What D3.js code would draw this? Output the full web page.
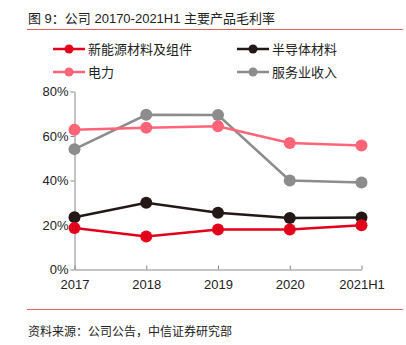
<!DOCTYPE html>
<html><head><meta charset="utf-8">
<script src="https://cdn.jsdelivr.net/npm/d3@7"></script>
<style>body{margin:0;background:#fff}svg{display:block}</style>
</head><body>
<svg id="c" width="406" height="345"></svg>
<script>
const categories = ["2017","2018","2019","2020","2021H1"];
const seriesNames = ["新能源材料及组件","半导体材料","电力","服务业收入"];
const seriesColors = ["#E2001A","#231815","#FF6478","#8C8C8C"];
const newEnergy = [18.6,14.8,18.0,18.0,19.9];
const semiconductor = [23.5,30.0,25.5,23.1,23.4];
const power = [62.8,63.7,64.4,56.9,55.7];
const services = [54.1,69.5,69.4,40.0,39.1];
const yTicks = [0,20,40,60,80];
const title = "图 9：公司 20170-2021H1 主要产品毛利率";
const source = "资料来源：公司公告，中信证券研究部";

const seriesData = [newEnergy, semiconductor, power, services];
const font = "'Liberation Sans', Arial, 'Noto Sans CJK SC', sans-serif";
const svg = d3.select("#c");

svg.append("text").attr("x",28).attr("y",23).attr("font-family",font).attr("font-size",13).attr("fill","#222").text(title);
svg.append("line").attr("x1",27).attr("x2",403).attr("y1",29.5).attr("y2",29.5).attr("stroke","#E06060").attr("stroke-width",1);
svg.append("line").attr("x1",27).attr("x2",403).attr("y1",309.5).attr("y2",309.5).attr("stroke","#E06060").attr("stroke-width",1);
svg.append("text").attr("x",28).attr("y",336).attr("font-family",font).attr("font-size",12).attr("fill","#222").text(source);

const x = d3.scalePoint().domain(categories).range([74.5,361.5]);
const y = d3.scaleLinear().domain([0,80]).range([269.5,91.5]);

const yAxis = svg.append("g").attr("transform","translate(74.5,0)")
  .call(d3.axisLeft(y).tickValues(yTicks).tickFormat(d=>d+"%").tickSize(4).tickSizeOuter(0));
const xAxis = svg.append("g").attr("transform","translate(0,269.5)")
  .call(d3.axisBottom(x).tickSize(-4).tickSizeOuter(0).tickPadding(10));
[yAxis,xAxis].forEach(a=>{
  a.select(".domain").attr("stroke","#888");
  a.selectAll(".tick line").attr("stroke","#888");
  a.selectAll("text").attr("font-family",font).attr("font-size",13).attr("fill","#222");
});
yAxis.selectAll("text").attr("dx",1);
xAxis.select(".tick:first-child line").remove();

const line = d3.line().x((d,i)=>x(categories[i])).y(d=>y(d));
const order = [3,2,1,0];
order.forEach(k=>{
  const g = svg.append("g");
  g.append("path").attr("d",line(seriesData[k])).attr("fill","none").attr("stroke",seriesColors[k]).attr("stroke-width",2.5);
  g.selectAll("circle").data(seriesData[k]).join("circle")
    .attr("cx",(d,i)=>x(categories[i])).attr("cy",d=>y(d)).attr("r",6).attr("fill",seriesColors[k]);
});

const legendPos = [[53,49],[237,49],[53,72],[237,72]];
seriesNames.forEach((n,k)=>{
  const [lx,ly] = legendPos[k];
  svg.append("line").attr("x1",lx).attr("x2",lx+32).attr("y1",ly).attr("y2",ly).attr("stroke",seriesColors[k]).attr("stroke-width",2.5);
  svg.append("circle").attr("cx",lx+16).attr("cy",ly).attr("r",4.5).attr("fill",seriesColors[k]);
  svg.append("text").attr("x",lx+35).attr("y",ly+4.5).attr("font-family",font).attr("font-size",13).attr("fill","#222").text(n);
});
</script>
</body></html>
